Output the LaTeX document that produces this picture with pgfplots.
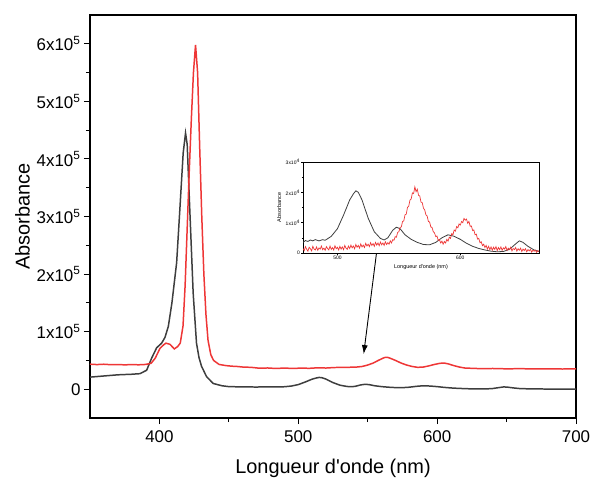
\documentclass[border=0pt]{standalone}
\usepackage{fontspec}
\setmainfont{Liberation Sans}[Ligatures=TeXOff]
\usepackage{pgfplots}
\pgfplotsset{compat=1.18}
\usetikzlibrary{arrows.meta}
\definecolor{cblack}{RGB}{62,62,62}
\definecolor{cred}{RGB}{238,54,54}
\begin{document}
\begin{tikzpicture}
\begin{axis}[name=main, scale only axis, width=486bp, height=403bp,
 xmin=350, xmax=700, ymin=-50000, ymax=650000,
 xtick={400,500,600,700}, xticklabels={400,500,600,700},
 minor x tick num=1,
 ytick={0,100000,200000,300000,400000,500000,600000},
 yticklabels={0,1x10\textsuperscript{5},2x10\textsuperscript{5},3x10\textsuperscript{5},4x10\textsuperscript{5},5x10\textsuperscript{5},6x10\textsuperscript{5}},
 minor y tick num=1,
 scaled y ticks=false, scaled x ticks=false,
 tick align=outside, xtick pos=bottom, ytick pos=left,
 major tick length=6bp, minor tick length=4bp,
 every tick/.style={line width=1pt, black},
 axis line style={line width=1.2pt},
 ticklabel style={font=\fontsize{17}{17}\selectfont},
 xticklabel style={yshift=-3bp},
 label style={font=\fontsize{20}{20}\selectfont},
 xlabel style={yshift=-10bp},
 xlabel={Longueur d'onde (nm)}, ylabel={Absorbance},
]
\addplot[cblack, line width=1.5pt] coordinates {
(350,21000) (360,23000) (370,25000) (380,26000) (386,27000) (390.8,33000)
(394.4,54000) (398,72000) (401.6,80000) (404,90000) (406.4,109000)
(409,150000) (412.4,220000) (414.7,312000) (417.1,410000) (418.8,445000)
(420,425000) (421.9,310000) (424.3,167000) (426.7,80000) (428.5,55000)
(430.3,40000) (433.9,22000) (438.7,10000) (445,6000) (450,4500) (460,4000)
(470,3800) (480,4200) (485,4000) (490,4300) (495,5500) (500,8000) (505,12500)
(510,17500) (513,19500) (515,20500) (517,20000) (520,17500) (525,11500)
(530,7000) (535,4800) (538,4300) (541,5000) (545,7500) (548,8500) (551,8000)
(555,6000) (560,4500) (565,3500) (570,2800) (575,2700) (580,3500) (585,5000)
(590,6000) (595,5500) (600,4500) (605,3200) (610,2200) (615,1500) (620,1000)
(625,600) (630,400) (635,500) (640,1200) (645,3000) (648,4000) (651,3500)
(655,2200) (660,1000) (670,500) (680,300) (690,200) (700,0)
};
\addplot[cred, line width=1.5pt] coordinates {
(350,43500) (355,42800) (360,43400) (365,42600) (370,42900) (375,42300) (380,42800) (385,42400) (390,43000) (394,45000)
(397,54000) (400.4,71000) (403,77000) (404.7,80000) (407.6,78000)
(410.7,70000) (413.1,74000) (415,80000) (417,110000) (418.5,180000)
(420,280000) (421.5,380000) (423,470000) (424.5,550000) (426,598000)
(427.5,550000) (429,420000) (430.5,300000) (432,200000) (433.5,130000)
(435,85000) (437,60000) (439,50000) (443,43000) (448,41000) (452,40000)
(456,39500) (460,38500) (466,38000) (472,36500) (478,36900) (484,36000)
(490,36800) (496,36000) (502,36700) (508,36300) (514,37200) (520,36800)
(526,37700) (532,37800) (538,38200) (542,38500) (546,39500) (550,42000)
(554,45500) (558,50500) (562,55000) (564,55500) (566,54000) (570,50000)
(574,45500) (578,42000) (582,39500) (586,38000) (590,38500) (594,40500)
(598,43000) (602,45000) (605,45500) (608,44000) (612,41000) (616,38500)
(620,36800) (626,36200) (632,35700) (640,36000) (650,35400) (660,35700)
(670,35200) (680,35500) (690,35100) (700,35300)
};
\draw[black, line width=0.9pt, -{Latex[length=9bp,width=6bp]}] (axis cs:556.3,236000) -- (axis cs:547.1,61000);
\end{axis}
\begin{axis}[at={(213bp,165bp)}, anchor=south west, scale only axis,
 width=236bp, height=91bp,
 xmin=472, xmax=664, ymin=0, ymax=30000,
 xtick={500,600}, xticklabels={500,600}, minor x tick num=1,
 ytick={0,10000,20000,30000},
 yticklabels={0,1x10\textsuperscript{4},2x10\textsuperscript{4},3x10\textsuperscript{4}},
 minor y tick num=1,
 scaled y ticks=false, scaled x ticks=false,
 tick align=outside, xtick pos=bottom, ytick pos=left,
 major tick length=2bp, minor tick length=1.2bp,
 every tick/.style={line width=0.5pt, black},
 axis line style={line width=0.7pt},
 ticklabel style={font=\fontsize{5}{5}\selectfont, inner sep=1pt},
 label style={font=\fontsize{5.5}{5.5}\selectfont},
 xlabel={Longueur d'onde (nm)}, ylabel={Absorbance},
 axis background/.style={fill=white},
]
\addplot[cblack, line width=0.8pt] coordinates {
(472,3500) (474,4100) (476,3800) (478,4300) (480,4000) (482,4400) (485,4000) (488,4400) (490,4200) (492,4700) (495,5500) (500,8000)
(505,12500) (510,17500) (513,19500) (515,20500) (517,20000) (520,17500)
(525,11500) (530,7000) (535,4800) (538,4300) (541,5000) (545,7500) (548,8500)
(551,8000) (555,6000) (560,4500) (565,3500) (570,2800) (575,2700) (580,3500)
(585,5000) (590,6000) (595,5500) (600,4500) (605,3200) (610,2200) (615,1500)
(620,1000) (625,600) (630,400) (635,500) (640,1200) (645,3000) (648,4000)
(651,3500) (655,2200) (660,1000) (664,500)
};
\addplot[cred, line width=0.7pt] coordinates {
(472,1500) (473,800) (474,2100) (475,1200) (476,600) (477,1900) (478,1400) (479,700) (480,2200) (481,1300) (482,1000) (483,2000) (484,900) (485,1700) (486,1300) (487,2300) (488,1100) (489,1600) (490,900) (491,2100) (492,1500) (493,1000) (494,2300) (495,1200) (496,1800) (497,1000) (498,2400) (499,1400) (500,1900) (501,1000) (502,2200) (503,1300) (504,2000) (505,1100) (506,2500) (507,1600) (508,1200) (509,2300) (510,1500) (511,2600) (512,1700) (513,2300) (514,1400) (515,2800) (516,1900) (517,2500) (518,1600) (519,3000) (520,2000) (521,2600) (522,1800) (523,3200) (524,2300) (525,2900) (526,2100) (527,3400) (528,2500) (529,3100) (530,2200) (531,3500) (532,2600) (533,3300) (534,2400) (535,3600) (536,2700) (537,3300) (538,2500) (539,3700) (540,2800) (541,3400) (542,2900) (543,4000) (544,3300) (545,4400) (546,4200) (547,5400) (548,5200) (549,6800) (550,7000) (551,8400) (552,8600) (553,10400) (554,10600) (555,12600) (556,12800) (557,15000) (558,15400) (559,17400) (560,17800) (561,19800) (562,19600) (563,21800) (564,20200) (565,21000) (566,19000) (567,18800) (568,16800) (569,16600) (570,14800) (571,14200) (572,12600) (573,12200) (574,10400) (575,10200) (576,8600) (577,8400) (578,7000) (579,6600) (580,5400) (581,5600) (582,4200) (583,4400) (584,3300) (585,3900) (586,2900) (587,3800) (588,3300) (589,4500) (590,3900) (591,5200) (592,4800) (593,6400) (594,6000) (595,7600) (596,7200) (597,8700) (598,8300) (599,9600) (600,9200) (601,10400) (602,10000) (603,11400) (604,10800) (605,11200) (606,9800) (607,10400) (608,8800) (609,8900) (610,7400) (611,7600) (612,6000) (613,6200) (614,4600) (615,4800) (616,3400) (617,3700) (618,2400) (619,2900) (620,1800) (621,2500) (622,1300) (623,2200) (624,1100) (625,2000) (626,900) (627,1900) (628,1200) (629,2100) (630,800) (631,1800) (632,1100) (633,2000) (634,900) (635,1700) (636,1300) (637,2100) (638,800) (639,1600) (640,1100) (641,1900) (642,700) (643,1500) (644,1100) (645,1800) (646,600) (647,1400) (648,900) (649,1600) (650,500) (651,1300) (652,800) (653,1400) (654,400) (655,1100) (656,700) (657,1200) (658,300) (659,900) (660,600) (661,1000) (662,200) (663,800) (664,500)
};
\end{axis}
\pgfresetboundingbox
\path[use as bounding box] (-90bp,-61bp) rectangle (500bp,418bp);
\end{tikzpicture}
\end{document}
